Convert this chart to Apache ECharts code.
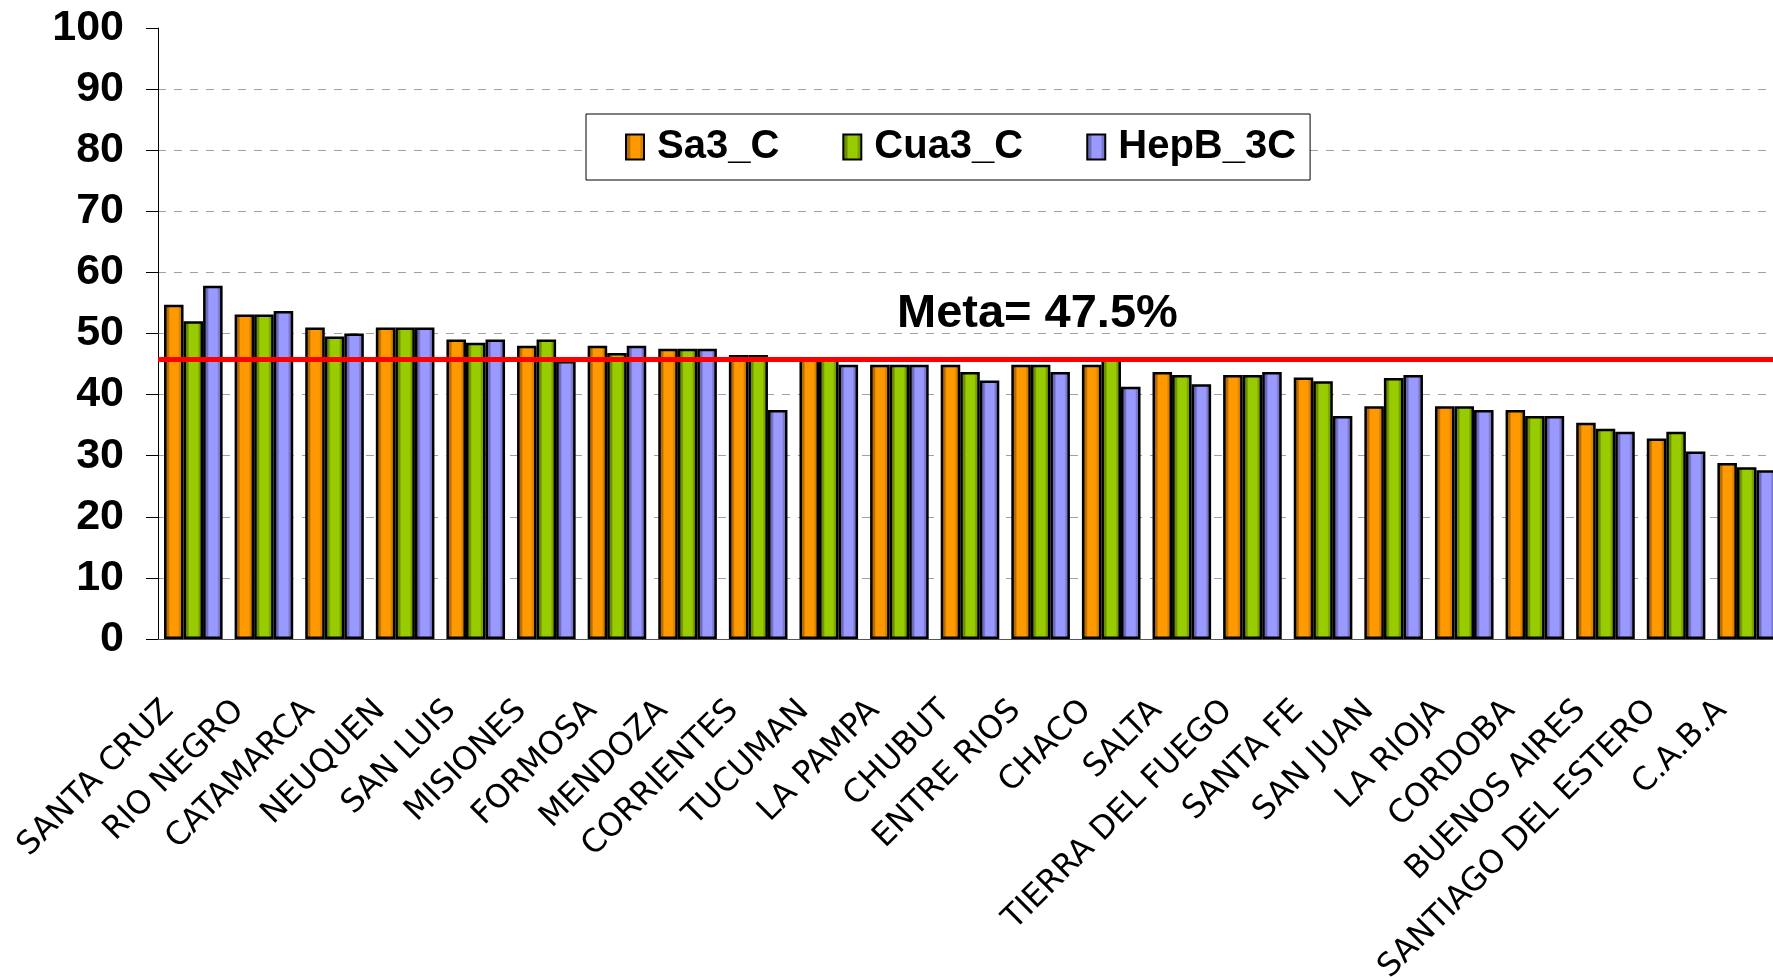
<!DOCTYPE html>
<html>
<head>
<meta charset="utf-8">
<script src="https://cdn.jsdelivr.net/npm/echarts@6/dist/echarts.min.js"></script>
<style>
html, body { margin: 0; padding: 0; background: #fff; }
#chart { width: 1773px; height: 977px; }
</style>
</head>
<body>
<div id="chart"></div>
<script>
// provincias, ordenadas como en el gráfico original
var provincias = ['SANTA CRUZ', 'RIO NEGRO', 'CATAMARCA', 'NEUQUEN', 'SAN LUIS', 'MISIONES',
	'FORMOSA', 'MENDOZA', 'CORRIENTES', 'TUCUMAN', 'LA PAMPA', 'CHUBUT', 'ENTRE RIOS', 'CHACO',
	'SALTA', 'TIERRA DEL FUEGO', 'SANTA FE', 'SAN JUAN', 'LA RIOJA', 'CORDOBA', 'BUENOS AIRES',
	'SANTIAGO DEL ESTERO', 'C.A.B.A'];

var sa3 = [54.7, 53.1, 51.0, 51.0, 49.0, 48.0, 48.0, 47.5, 46.5, 45.8, 44.9, 44.9, 44.9, 44.9,
	43.7, 43.2, 42.8, 38.1, 38.1, 37.5, 35.4, 32.8, 28.8];
var cua3 = [52.0, 53.1, 49.5, 51.0, 48.5, 49.0, 46.8, 47.5, 46.5, 45.8, 44.9, 43.7, 44.9, 45.9,
	43.2, 43.2, 42.2, 42.7, 38.1, 36.5, 34.4, 33.9, 28.1];
var hepb = [57.8, 53.7, 50.0, 51.0, 49.0, 45.5, 48.0, 47.5, 37.5, 44.9, 44.9, 42.3, 43.7, 41.3,
	41.7, 43.7, 36.5, 43.2, 37.5, 36.5, 33.9, 30.7, 27.6];

// la linea roja queda dibujada un poco por debajo del 47.5 del rotulo
var metaLinea = 45.8;
var metaTexto = 'Meta= 47.5%';

function relleno(oscuro, claro, medio) {
	return new echarts.graphic.LinearGradient(0, 0, 1, 0, [
		{ offset: 0, color: oscuro },
		{ offset: 0.22, color: oscuro },
		{ offset: 0.3, color: claro },
		{ offset: 0.72, color: claro },
		{ offset: 0.8, color: medio },
		{ offset: 1, color: medio }
	]);
}

var myChart = echarts.init(document.getElementById('chart'));

var option = {
	animation: false,
	backgroundColor: '#fff',
	grid: { left: 158, top: 28, right: -9, bottom: 338, outerBoundsMode: 'none', containLabel: false },
	legend: {
		left: 586,
		top: 114,
		padding: [13, 14, 13, 39],
		itemGap: 63,
		itemWidth: 18,
		itemHeight: 25,
		icon: 'rect',
		borderColor: '#000',
		borderWidth: 1,
		backgroundColor: '#fff',
		textStyle: {
			fontFamily: '"Liberation Sans", Arial, sans-serif',
			fontWeight: 'bold',
			fontSize: 40,
			lineHeight: 40,
			color: '#000',
			padding: [0, 0, 0, 8]
		},
		data: ['Sa3_C', 'Cua3_C', 'HepB_3C']
	},
	graphic: [{
		type: 'text',
		left: 897,
		top: 291,
		z: 10,
		style: {
			text: metaTexto,
			font: 'bold 47px "Liberation Sans", Arial, sans-serif',
			fill: '#000'
		}
	}],
	xAxis: {
		type: 'category',
		data: provincias,
		axisLine: { lineStyle: { color: '#555', width: 1 } },
		axisTick: { length: 13, lineStyle: { color: '#555' } },
		axisLabel: {
			interval: 0,
			rotate: 45,
			margin: 42,
			padding: [0, 35, 0, 0],
			fontFamily: '"DejaVu Sans", Verdana, sans-serif',
			fontSize: 32,
			color: '#000'
		}
	},
	yAxis: {
		type: 'value',
		min: 0,
		max: 100,
		interval: 10,
		axisLine: { show: true, lineStyle: { color: '#000', width: 1 } },
		axisTick: { show: true, length: 12, lineStyle: { color: '#000' } },
		axisLabel: {
			margin: 34,
			fontFamily: '"Liberation Sans", Arial, sans-serif',
			fontWeight: 'bold',
			fontSize: 43,
			color: '#000'
		},
		splitLine: {
			show: true,
			showMaxLine: false,
			lineStyle: { color: '#a0a0a0', type: [8, 8], width: 1 }
		}
	},
	series: [{
		name: 'Sa3_C',
		type: 'bar',
		barGap: '0%',
		barCategoryGap: '17%',
		data: sa3,
		itemStyle: { color: relleno('#b86c00', '#ff9900', '#d98200'), borderColor: '#000', borderWidth: 2.5 },
		markLine: {
			silent: true,
			symbol: 'none',
			label: { show: false },
			lineStyle: { color: '#ff0000', width: 5, type: 'solid' },
			data: [{ yAxis: metaLinea }]
		},
		z: 2
	}, {
		name: 'Cua3_C',
		type: 'bar',
		barGap: '0%',
		barCategoryGap: '17%',
		data: cua3,
		itemStyle: { color: relleno('#6b8f00', '#99cc00', '#7aa300'), borderColor: '#000', borderWidth: 2.5 },
		z: 2
	}, {
		name: 'HepB_3C',
		type: 'bar',
		barGap: '0%',
		barCategoryGap: '17%',
		data: hepb,
		itemStyle: { color: relleno('#6b6bb8', '#9999ff', '#7a7acc'), borderColor: '#000', borderWidth: 2.5 },
		z: 2
	}]
};

myChart.setOption(option);
</script>
</body>
</html>
